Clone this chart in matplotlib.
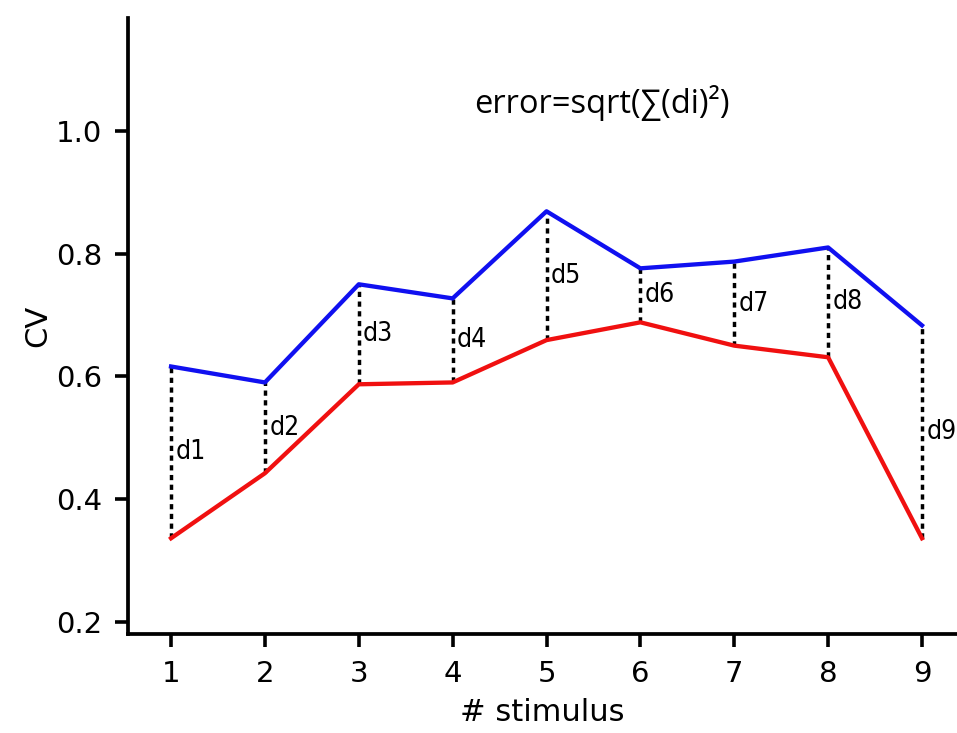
import matplotlib
matplotlib.use("Agg")
import matplotlib.pyplot as plt

stimulus = [1, 2, 3, 4, 5, 6, 7, 8, 9]
cv_blue = [0.616, 0.590, 0.750, 0.727, 0.869, 0.776, 0.787, 0.810, 0.683]
cv_red = [0.336, 0.442, 0.587, 0.590, 0.659, 0.688, 0.650, 0.631, 0.336]
d_labels = ["d1", "d2", "d3", "d4", "d5", "d6", "d7", "d8", "d9"]
y_ticks = [0.2, 0.4, 0.6, 0.8, 1.0]

fig = plt.figure(figsize=(9.57, 7.33), dpi=100)
ax = fig.add_axes([0.1338, 0.1351, 1.0 - 0.1338, 0.9754 - 0.1351])

ax.plot(stimulus, cv_blue, color="#1010f0", lw=3.1, zorder=3)
ax.plot(stimulus, cv_red, color="#f01010", lw=3.1, zorder=3)

for x, yb, yr, lab in zip(stimulus, cv_blue, cv_red, d_labels):
    ax.plot([x, x], [yr, yb], color="black", lw=2.5, linestyle=(0, (1.5, 1.3)), zorder=2)
    ax.text(x + 0.045, (yb + yr) / 2, lab, fontsize=19, va="center", ha="left",
            fontstretch="condensed", family=["DejaVu Sans Condensed", "DejaVu Sans"])

ax.text(0.572, 0.862, "error=sqrt(\u2211(di)\u00b2)", transform=ax.transAxes,
        fontsize=23.5, ha="center", va="center", family=["Open Sans", "DejaVu Sans"])

ax.set_xlim(0.542, 9.373)
ax.set_ylim(0.18, 1.184)
ax.set_xticks(stimulus)
ax.set_yticks(y_ticks)
ax.set_yticklabels([f"{v:.1f}" for v in y_ticks])
ax.tick_params(labelsize=21, width=2.6, length=9.5)
ax.tick_params(axis="x", pad=9.5)
ax.tick_params(axis="y", pad=9)
ax.spines["top"].set_visible(False)
ax.spines["right"].set_visible(False)
ax.spines["left"].set_linewidth(2.7)
ax.spines["bottom"].set_linewidth(2.7)
ax.set_xlabel("# stimulus", fontsize=22, labelpad=7)
ax.set_ylabel("CV", fontsize=22, labelpad=3)

fig.savefig("out.png", dpi=100)
